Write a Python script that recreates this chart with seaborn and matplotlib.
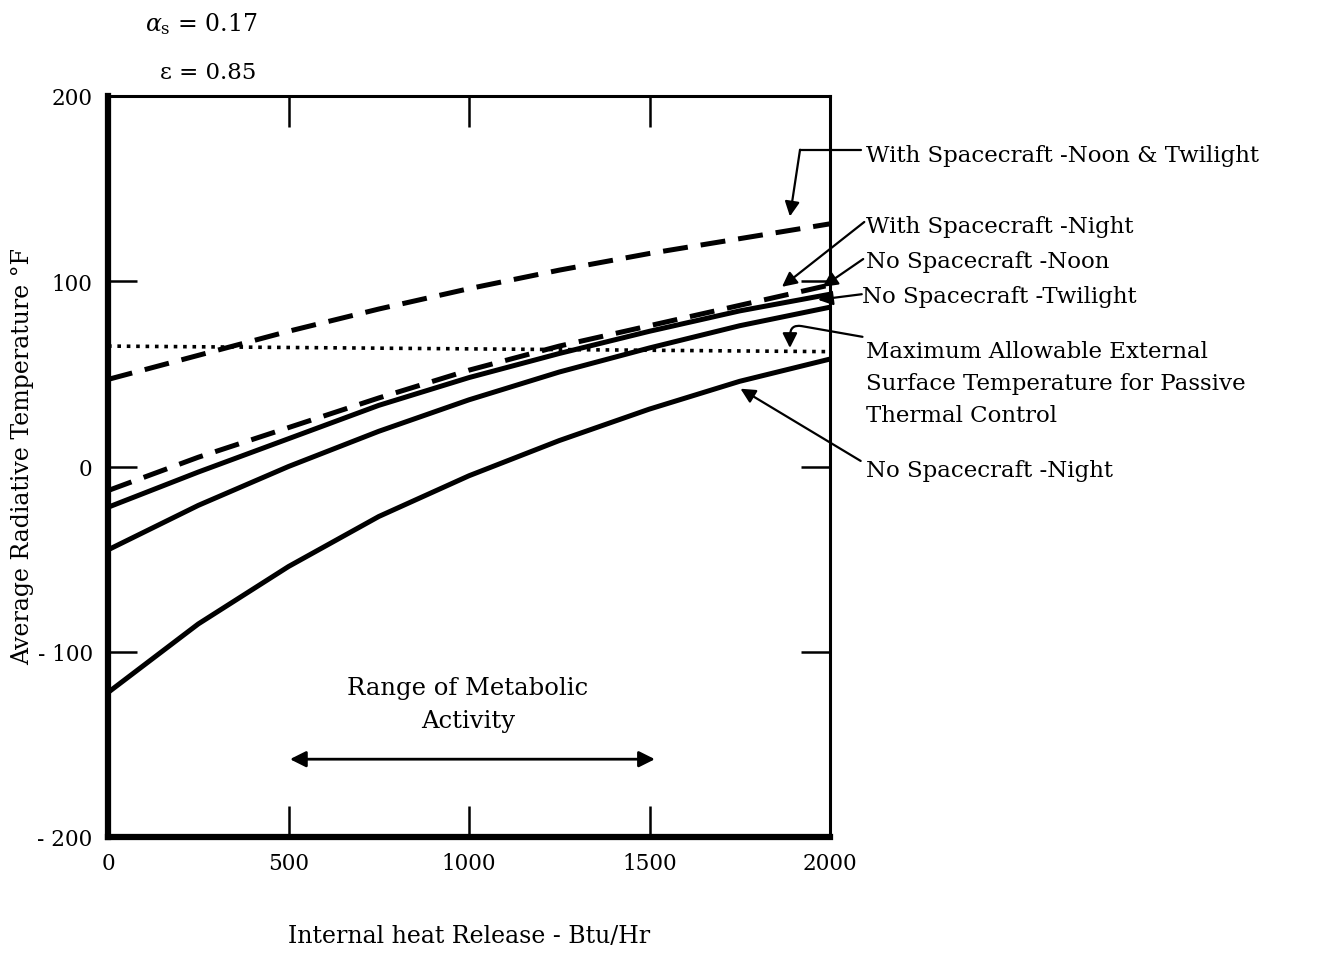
import numpy as np
import pandas as pd
import matplotlib
matplotlib.use("Agg")
import matplotlib.pyplot as plt
import seaborn as sns

# heat release (Btu/Hr) and the temperature curves (deg F)
heat = [0, 250, 500, 750, 1000, 1250, 1500, 1750, 2000]
ws_noon_twi = [47, 60, 73, 85, 96, 106, 115, 123, 131]
ws_night = [-13, 5, 21, 37, 52, 65, 76, 87, 98]
ns_noon = [-22, -3, 15, 33, 48, 61, 73, 84, 93]
ns_twi = [-45, -21, 0, 19, 36, 51, 64, 76, 86]
ns_night = [-122, -85, -54, -27, -5, 14, 31, 46, 58]

max_heat = [0, 2000]
max_allow = [65, 62]

xticks = [0, 500, 1000, 1500, 2000]
yticks = [-200, -100, 0, 100, 200]
ytick_labels = ["- 200", "- 100", "0", "100", "200"]

sns.set_theme(style="white")
plt.rcParams['font.family'] = ['DejaVu Serif']
plt.rcParams['mathtext.fontset'] = 'dejavuserif'
plt.rcParams['text.color'] = 'black'
plt.rcParams['axes.labelcolor'] = 'black'

fig = plt.figure(figsize=(13.22, 9.54), dpi=100)
ax = fig.add_axes([108 / 1322, 1 - 838 / 954, 722 / 1322, 741 / 954])

df = pd.DataFrame({"heat": heat, "ws_noon_twi": ws_noon_twi, "ws_night": ws_night,
                   "ns_noon": ns_noon, "ns_twi": ns_twi, "ns_night": ns_night})

lw = 3.6
for col in ["ws_noon_twi", "ws_night"]:
    sns.lineplot(data=df, x="heat", y=col, ax=ax, color="black", lw=lw)
    ax.lines[-1].set_dashes([5, 2.6])
for col in ["ns_noon", "ns_twi", "ns_night"]:
    sns.lineplot(data=df, x="heat", y=col, ax=ax, color="black", lw=lw)

sns.lineplot(x=max_heat, y=max_allow, ax=ax, color="black", lw=2.6)
ax.lines[-1].set_dashes([1, 1.6])

ax.set_xlim(0, 2000)
ax.set_ylim(-200, 200)
ax.set_xticks(xticks)
ax.set_yticks(yticks)
ax.set_yticklabels(ytick_labels)

for side, w in [("left", 4.5), ("bottom", 4.5), ("top", 2.2), ("right", 2.2)]:
    ax.spines[side].set_visible(True)
    ax.spines[side].set_color("black")
    ax.spines[side].set_linewidth(w)

ax.tick_params(axis="x", direction="in", length=22, width=1.8, top=True, bottom=True,
               labelsize=15.5, pad=11, colors="black")
ax.tick_params(axis="y", direction="in", length=21, width=1.8, left=True, right=True,
               labelsize=15.5, pad=11, colors="black")

ax.set_xlabel("Internal heat Release - Btu/Hr", fontsize=17, labelpad=36)
ax.set_ylabel("Average Radiative Temperature °F", fontsize=17, labelpad=12)
ax.yaxis.set_label_coords(-0.103, 0.515)

fs = 16.5
arr = dict(arrowstyle="-|>", color="black", lw=1.6, mutation_scale=22, shrinkA=0, shrinkB=0)

# With Spacecraft - Noon & Twilight
ax.text(2100, 168, "With Spacecraft -Noon & Twilight", fontsize=fs, va="center", ha="left", clip_on=False)
ax.plot([2085, 1917], [171, 171], color="black", lw=1.6, clip_on=False)
ax.annotate("", xy=(1889, 135), xytext=(1917, 171), arrowprops=arr, annotation_clip=False)

# With Spacecraft - Night
ax.text(2100, 130, "With Spacecraft -Night", fontsize=fs, va="center", ha="left", clip_on=False)
ax.annotate("", xy=(1867, 97), xytext=(2095, 132), arrowprops=arr, annotation_clip=False)

# No Spacecraft - Noon
ax.text(2100, 111, "No Spacecraft -Noon", fontsize=fs, va="center", ha="left", clip_on=False)
ax.annotate("", xy=(1980, 97), xytext=(2092, 112), arrowprops=arr, annotation_clip=False)

# No Spacecraft - Twilight
ax.text(2090, 92, "No Spacecraft -Twilight", fontsize=fs, va="center", ha="left", clip_on=False)
ax.annotate("", xy=(1967, 90), xytext=(2088, 93), arrowprops=arr, annotation_clip=False)

# Maximum allowable
ax.text(2100, 45, "Maximum Allowable External\nSurface Temperature for Passive\nThermal Control",
        fontsize=fs, va="center", ha="left", linespacing=1.6, clip_on=False)
ax.annotate("", xy=(1889, 64), xytext=(2090, 70), annotation_clip=False,
            arrowprops=dict(arr, connectionstyle="angle,angleA=170,angleB=90,rad=12"))

# No Spacecraft - Night
ax.text(2100, -2, "No Spacecraft -Night", fontsize=fs, va="center", ha="left", clip_on=False)
ax.annotate("", xy=(1752, 42), xytext=(2085, 3), arrowprops=arr, annotation_clip=False)

# Range of metabolic activity
ax.text(997, -128, "Range of Metabolic\nActivity", fontsize=17.5, ha="center", va="center",
        linespacing=1.55)
ax.annotate("", xy=(504, -158), xytext=(1515, -158),
            arrowprops=dict(arrowstyle="<|-|>", color="black", lw=2, mutation_scale=24,
                            shrinkA=0, shrinkB=0))

fig.text(145 / 1322, 1 - 24 / 954, r"$\alpha_{\mathrm{s}}$ = 0.17", fontsize=17, va="center")
fig.text(160 / 1322, 1 - 73 / 954, "ε = 0.85", fontsize=16.5, va="center")

fig.savefig("out.png", dpi=100, facecolor="white")
